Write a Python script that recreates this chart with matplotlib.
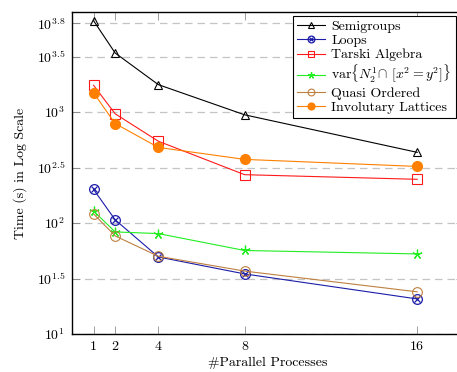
import matplotlib
matplotlib.use("Agg")
import matplotlib.pyplot as plt
import numpy as np
from matplotlib.ticker import FixedLocator, NullLocator

plt.rcParams["font.family"] = ["cmr10", "DejaVu Serif"]
plt.rcParams["mathtext.fontset"] = "cm"
plt.rcParams["axes.formatter.use_mathtext"] = True

# data (seconds)
processes = [1, 2, 4, 8, 16]
semigroups = [6668, 3412, 1770, 946, 434]
loops = [201, 107, 49.5, 34.8, 20.7]
tarski = [1746, 966, 547, 273, 248]
var_n21 = [128.5, 83.2, 80.4, 56.6, 52.7]
quasi_ordered = [120.8, 76.6, 50.2, 36.9, 24.0]
involutary = [1493, 789, 481, 375, 324]

ytick_exps = [1, 1.5, 2, 2.5, 3, 3.5, 3.8]
ytick_labels = [r"$10^{1}$", r"$10^{1.5}$", r"$10^{2}$", r"$10^{2.5}$",
                r"$10^{3}$", r"$10^{3.5}$", r"$10^{3.8}$"]

fig = plt.figure(figsize=(4.57, 3.72), dpi=100)
# the right edge of the axes is cropped off in the original
ax = fig.add_axes([72 / 457, 1 - 334 / 372, (464 - 72) / 457, (334 - 12.3) / 372])

lw = 0.8
h_semi, = ax.plot(processes, semigroups, color="black", lw=lw, marker="^",
                  ms=6, mfc="none", mew=0.8)
l_loops, = ax.plot(processes, loops, color="#1c1ca8", lw=lw, marker="o",
                   ms=7, mfc="none", mew=0.9)
x_loops, = ax.plot(processes, loops, color="#1c1ca8", lw=0, marker="x",
                   ms=5, mew=0.9)
h_tarski, = ax.plot(processes, tarski, color="#ff1a1a", lw=lw, marker="s",
                    ms=7, mfc="none", mew=0.8)
h_var, = ax.plot(processes, var_n21, color="#22ee22", lw=lw, marker=(5, 2),
                 ms=7, mew=0.9)
h_quasi, = ax.plot(processes, quasi_ordered, color="#bf8040", lw=lw, marker="o",
                   ms=7, mfc="none", mew=0.8)
h_invol, = ax.plot(processes, involutary, color="#ff8000", lw=lw, marker="o",
                   ms=7, mec="#ff8000", mfc="#ff8000")

ax.set_yscale("log")
ax.set_ylim(10, 10 ** 3.9)
ax.set_xlim(0, 1 + (464 - 93.7) / 21.57)
ax.yaxis.set_major_locator(FixedLocator([10 ** e for e in ytick_exps]))
ax.yaxis.set_minor_locator(NullLocator())
ax.set_yticklabels(ytick_labels)
ax.set_xticks(processes)
ax.set_xticklabels([str(p) for p in processes])

for e in ytick_exps:
    ax.axhline(10 ** e, color="#c4c4c4", lw=0.9, ls=(0, (6, 4)), zorder=0)

ax.tick_params(direction="in", top=True, right=True, length=6, width=0.5,
               color="#777777", labelsize=10, pad=5)
for s in ax.spines.values():
    s.set_linewidth(1.0)

ax.set_xlabel("#Parallel Processes", fontsize=10, labelpad=3)
ax.set_ylabel("Time (s) in Log Scale", fontsize=10, labelpad=7)

handles = [h_semi, (l_loops, x_loops), h_tarski, h_var, h_quasi, h_invol]
labels = ["Semigroups", "Loops", "Tarski Algebra",
          r"var$\{N_2^1\!\cap\,[x^2=y^2]\}$", "Quasi Ordered",
          "Involutary Lattices"]
leg = ax.legend(handles, labels, loc="upper right",
                bbox_to_anchor=(455.7 / 457, 1 - 15.7 / 372),
                bbox_transform=fig.transFigure, fontsize=10, fancybox=False,
                edgecolor="black", framealpha=1, handlelength=2.0,
                handletextpad=0.5, labelspacing=0.12, borderpad=0.3,
                borderaxespad=0, markerscale=0.7)
leg.get_frame().set_linewidth(0.8)

fig.savefig("out.png", dpi=100)
